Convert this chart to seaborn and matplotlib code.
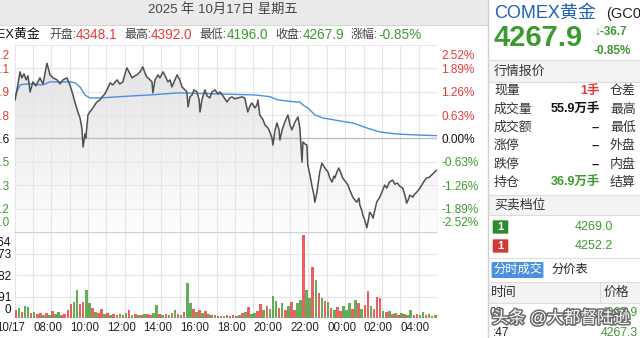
import numpy as np
import matplotlib
matplotlib.use("Agg")
import matplotlib.pyplot as plt
import seaborn as sns
from matplotlib import transforms
from matplotlib.patches import Rectangle, FancyBboxPatch
from matplotlib.colors import LinearSegmentedColormap
import matplotlib.patheffects as pe

sns.set_style("white")
plt.rcParams["font.family"] = ["Liberation Sans", "Noto Sans CJK SC", "DejaVu Sans"]

# ---------------- data ----------------
prev_close = 4304.6
open_p, high_p, low_p, close_p = 4348.1, 4392.0, 4196.0, 4267.9
change, change_pct = -36.7, -0.85
axis_top, axis_bottom = 4413.2, 4196.0

pct_labels = ["2.52%", "1.89%", "1.26%", "0.63%", "0.00%", "-0.63%", "-1.26%", "-1.89%", "-2.52%"]
price_levels = [4413.2, 4386.1, 4358.9, 4331.8, 4304.6, 4277.5, 4250.3, 4223.2, 4196.0]

vol_max = 4364
vol_levels = [4364, 3273, 2182, 1091, 0]

time_labels = ["10/17", "08:00", "10:00", "12:00", "14:00", "16:00", "18:00",
               "20:00", "22:00", "00:00", "02:00", "04:00"]
time_label_min = [0, 120, 240, 360, 480, 600, 720, 840, 960, 1080, 1200, 1320]
session_minutes = 1380  # 06:00 -> 05:00 next day

# (minutes since 06:00, price)
price_points = [
    (0, 4348.1), (2, 4349.4), (8, 4361.1), (18, 4382.0), (24, 4375.0), (31, 4379.7), (38, 4372.7),
    (44, 4377.4), (51, 4358.7), (60, 4370.4), (70, 4365.7), (83, 4375.0), (93, 4368.0), (106, 4392.0),
    (116, 4378.5), (126, 4375.0), (139, 4372.7), (149, 4368.0), (158, 4372.7), (171, 4375.0),
    (181, 4366.9), (191, 4355.2), (198, 4345.9), (207, 4335.4), (214, 4328.5), (220, 4316.8),
    (224, 4294.7), (230, 4309.8), (233, 4305.2), (240, 4332.0), (246, 4335.4), (256, 4340.1),
    (269, 4347.1), (279, 4349.4), (286, 4352.9), (295, 4356.4), (302, 4361.1), (312, 4369.2),
    (321, 4366.9), (335, 4372.7), (344, 4368.0), (354, 4370.4), (361, 4379.7), (367, 4386.7),
    (377, 4379.7), (384, 4375.0), (393, 4377.4), (400, 4378.5), (410, 4382.0), (419, 4387.8),
    (426, 4380.8), (432, 4376.2), (443, 4372.7), (449, 4370.4), (452, 4357.6), (459, 4372.7),
    (469, 4378.5), (475, 4375.0), (485, 4382.0), (492, 4377.4), (501, 4370.4), (508, 4372.7),
    (514, 4364.5), (524, 4372.7), (531, 4378.5), (540, 4372.7), (547, 4364.5), (557, 4361.1),
    (563, 4358.7), (567, 4341.3), (573, 4352.9), (580, 4355.2), (586, 4361.1), (596, 4358.7),
    (603, 4349.4), (606, 4335.4), (612, 4349.4), (622, 4361.1), (629, 4354.1), (638, 4351.7),
    (645, 4358.7), (655, 4361.1), (664, 4356.4), (671, 4358.7), (681, 4354.1), (694, 4347.1),
    (703, 4351.7), (710, 4352.9), (720, 4350.6), (729, 4351.7), (743, 4352.9), (752, 4351.7),
    (762, 4335.4), (769, 4342.4), (775, 4345.9), (785, 4340.1), (792, 4343.6), (795, 4349.4),
    (801, 4332.0), (812, 4326.1), (818, 4320.3), (828, 4316.8), (834, 4312.2), (841, 4305.2),
    (844, 4297.0), (851, 4314.5), (857, 4322.6), (864, 4314.5), (867, 4302.9), (874, 4314.5),
    (883, 4323.8), (893, 4332.0), (900, 4320.3), (906, 4314.5), (916, 4323.8), (926, 4329.6),
    (932, 4316.8), (939, 4277.2), (942, 4300.5), (949, 4298.2), (955, 4297.0), (958, 4273.8),
    (965, 4262.1), (971, 4250.5), (978, 4238.8), (981, 4230.7), (988, 4242.3), (991, 4250.5),
    (997, 4265.6), (1004, 4276.1), (1014, 4270.3), (1024, 4265.6), (1030, 4258.6), (1037, 4254.0),
    (1043, 4260.9), (1046, 4258.6), (1053, 4265.6), (1059, 4270.3), (1066, 4264.4), (1072, 4258.6),
    (1082, 4254.0), (1089, 4250.5), (1095, 4244.7), (1105, 4236.5), (1112, 4233.0), (1118, 4230.7),
    (1125, 4235.3), (1128, 4227.2), (1134, 4221.4), (1138, 4215.6), (1144, 4209.7), (1151, 4201.0),
    (1157, 4212.1), (1160, 4219.0), (1167, 4215.6), (1171, 4212.1), (1177, 4221.4), (1183, 4230.7),
    (1193, 4236.5), (1200, 4242.3), (1209, 4250.5), (1216, 4247.0), (1225, 4254.0), (1235, 4256.3),
    (1242, 4251.6), (1251, 4252.8), (1258, 4249.3), (1268, 4247.0), (1275, 4238.8), (1281, 4229.5),
    (1288, 4235.3), (1291, 4238.8), (1301, 4236.5), (1307, 4240.0), (1314, 4242.3), (1324, 4247.0),
    (1330, 4250.5), (1340, 4256.3), (1346, 4258.6), (1356, 4259.8), (1362, 4262.1), (1372, 4265.6),
    (1379, 4267.9),
]

# average price line (minutes, price)
avg_points = [
    (0, 4352.9), (18, 4366.9), (41, 4368.0), (93, 4366.9), (116, 4370.4), (181, 4370.4),
    (198, 4369.2), (214, 4364.5), (230, 4355.2), (246, 4351.7), (279, 4351.7), (387, 4354.1),
    (443, 4355.2), (534, 4357.6), (664, 4356.4), (785, 4355.2), (834, 4353.2), (860, 4349.4),
    (916, 4347.1), (932, 4347.1), (942, 4343.6), (958, 4340.1), (981, 4332.0), (1007, 4328.5),
    (1063, 4325.0), (1105, 4322.6), (1151, 4316.8), (1193, 4312.2), (1249, 4309.8), (1314, 4308.7),
    (1379, 4307.9),
]

# volume per 10-minute bin (lots), and up/down colour
volume = [
    406, 507, 304, 608, 558, 254, 304, 203, 254, 152, 254, 152, 355, 203, 304, 152, 203, 406, 710, 811,
    1420, 710, 811, 1420, 761, 507, 304, 254, 456, 203, 254, 152, 203, 152, 203, 152, 254, 406, 152, 203,
    152, 152, 203, 203, 152, 254, 659, 203, 152, 203, 152, 254, 406, 203, 152, 304, 1775, 761, 456, 304,
    406, 254, 355, 203, 152, 152, 101, 101, 101, 152, 101, 152, 101, 152, 254, 304, 558, 203, 254, 355,
    710, 406, 608, 456, 1115, 862, 507, 761, 406, 608, 811, 406, 761, 913, 4208, 1420, 1014, 2586, 1927, 1268,
    1014, 862, 811, 507, 406, 558, 355, 608, 406, 761, 456, 913, 761, 456, 659, 1369, 608, 456, 1065, 1014,
    355, 304, 355, 203, 254, 152, 254, 203, 152, 406, 152, 203, 152, 304, 152, 203, 101, 152,
]
vol_dir = ("rgrggrgrrgrgrggrrrrg" "grrggrgrrgrgrrgrgrgr"
           "grgrrggrgrgrgrgrggrg" "rgrgrgrrgrgrrgrgrggr"
           "rgrgggrgrgrrggrggrgr" "grgrgrrgggrgrgrrgrrr"
           "grgrgrgrggrrggrg" "rg")

# ---------------- figure ----------------
RED = "#e63a3a"
GREEN = "#3b9a2e"
W, H = 640, 338
fig = plt.figure(figsize=(6.4, 3.38), dpi=100)
fig.patch.set_facecolor("white")


def fx(x):
    return x / W


def fy(y):
    return 1 - y / H


def T(x, y, s, **kw):
    kw.setdefault("va", "center")
    return fig.text(fx(x), fy(y), s, **kw)


# header bar
fig.patches.append(Rectangle((0, fy(25)), fx(488), 25 / H, transform=fig.transFigure,
                             facecolor="#ebebeb", edgecolor="none", zorder=0))
fig.add_artist(plt.Line2D([0, fx(488)], [fy(25), fy(25)], color="#d6d6d6", lw=0.8))
T(223, 10, "2025 年 10月17日 星期五", ha="center", fontsize=9.5, color="#454545")

# info row
T(40, 35, "COMEX黄金", ha="right", fontsize=9.3, color="#111111")
info = [(49, 76, "开盘:", "4348.1", RED), (124, 151, "最高:", "4392.0", RED),
        (199, 227, "最低:", "4196.0", GREEN), (275, 303, "收盘:", "4267.9", GREEN),
        (351, 378, "涨幅:", "-0.85%", GREEN)]
for xl, xv, lab, val, c in info:
    T(xl, 35, lab, ha="left", fontsize=8.6, color="#444444")
    T(xv, 35, val, ha="left", fontsize=9.8, color=c)

# axes
L = 14.5
R = 437.0
ax = fig.add_axes([fx(L), fy(232), (R - L) / W, 187 / H])
axv = fig.add_axes([fx(L), fy(318), (R - L) / W, 86 / H])

price_min = [p[0] for p in price_points]
price_val = [p[1] for p in price_points]
avg_min = [p[0] for p in avg_points]
avg_val = [p[1] for p in avg_points]

for a in (ax, axv):
    a.set_facecolor("none")
    a.set_xlim(0, session_minutes)
    for s in a.spines.values():
        s.set_visible(False)
    a.set_xticks([])
    a.set_yticks([])

ax.set_ylim(axis_bottom, axis_top)

# gradient fill below the price line: stacked fills, darkest (top) first
cmap = LinearSegmentedColormap.from_list("g", ["#fdfdfd", "#e1e1e1"])
pv = np.array(price_val)
nb = 48
edges = np.linspace(axis_bottom, axis_top, nb + 1)
for k in range(nb, 0, -1):
    hi = edges[k]
    ax.fill_between(price_min, axis_bottom, np.minimum(pv, hi),
                    color=cmap((k - 0.5) / nb), lw=0, zorder=0.2)

for a in (ax, axv):
    for m in range(0, session_minutes + 1, 60):
        a.axvline(m, color="#e4e4ea", lw=0.8, zorder=0.5)
for lv in price_levels:
    if abs(lv - prev_close) < 0.05:
        ax.axhline(lv, color="#bdbdbd", lw=1.0, zorder=0.6)
    else:
        ax.axhline(lv, color="#e4e4ea", lw=0.8, zorder=0.5)

sns.lineplot(x=price_min, y=price_val, ax=ax, color="#505050", lw=1.1, zorder=3)
sns.lineplot(x=avg_min, y=avg_val, ax=ax, color="#4a8fdb", lw=1.0, zorder=2)
ax.set_xlim(0, session_minutes)
ax.set_ylim(axis_bottom, axis_top)

# volume
assert len(volume) == len(vol_dir), (len(volume), len(vol_dir))
vol_x = [10 * i for i in range(len(volume))]
vcol = [RED if d == "r" else GREEN for d in vol_dir]
axv.bar(vol_x, volume, width=8.5, align="edge", color=vcol, alpha=0.8, lw=0, zorder=2)
axv.set_ylim(0, vol_max)
for lv in vol_levels[1:-1]:
    axv.axhline(lv, color="#e4e4ea", lw=0.8, zorder=0.5)
axv.axhline(vol_max, color="#cfd0dc", lw=1.0, zorder=1)
axv.axhline(0, color="#d6d6d6", lw=1.0, zorder=1)


def off_text(a, xa, yd, s, dx, dy, blend="x_axes", **kw):
    if blend == "x_axes":
        base = transforms.blended_transform_factory(a.transAxes, a.transData)
    else:
        base = transforms.blended_transform_factory(a.transData, a.transAxes)
    tr = base + transforms.ScaledTranslation(dx / 100, -dy / 100, fig.dpi_scale_trans)
    a.text(xa, yd, s, transform=tr, clip_on=False, **kw)


n = len(price_levels)
for i, (lv, pl) in enumerate(zip(price_levels, pct_labels)):
    if i < 4:
        c = RED
    elif i == 4:
        c = "#111111"
    else:
        c = GREEN
    dy = 11 if i == 0 else (-9 if i == n - 1 else 1.5)
    off_text(ax, 1.0, lv, pl, 4, dy, ha="left", va="center", fontsize=8.5, color=c)
    off_text(ax, 0.0, lv, f"{lv:.1f}", -5, dy, ha="right", va="center", fontsize=8.5, color=c)

for i, lv in enumerate(vol_levels):
    dy = 10.5 if i == 0 else (-8 if i == len(vol_levels) - 1 else 1.5)
    off_text(axv, 0.0, lv, f"{lv}", -3, dy, ha="right", va="center", fontsize=8.5, color="#111111")

for m, lab in zip(time_label_min, time_labels):
    off_text(axv, m, 0, lab, -3.5, 10, blend="x_data", ha="center", va="center",
             fontsize=8.3, color="#222222")

# separator
fig.add_artist(plt.Line2D([fx(488), fx(488)], [fy(0), fy(338)], color="#cfcfcf", lw=1.0))

# ---------------- right panel ----------------
T(494, 13, "COMEX黄金", ha="left", fontsize=13, color="#1f62b3")
T(606, 14, "(GC0", ha="left", fontsize=10.5, color="#222222")
T(493, 38, "4267.9", ha="left", fontsize=21, fontweight="bold", color=GREEN)
T(594, 32, "↓-36.7", ha="left", fontsize=8.5, fontweight="bold", color=GREEN)
T(594, 51, "-0.85%", ha="left", fontsize=8.5, fontweight="bold", color=GREEN)


def hline(y, x0=488, x1=640, c="#dcdcdc"):
    fig.add_artist(plt.Line2D([fx(x0), fx(x1)], [fy(y), fy(y)], color=c, lw=0.8))


def band(y0, y1):
    fig.patches.append(Rectangle((fx(488), fy(y1)), fx(152), (y1 - y0) / H,
                                 transform=fig.transFigure, facecolor="#f3f3f3",
                                 edgecolor="none", zorder=0))


band(60, 82)
band(195, 215)
band(282, 303)
for y in (60, 82, 195, 215, 258, 282, 303):
    hline(y)
fig.add_artist(plt.Line2D([fx(600), fx(600)], [fy(282), fy(303)], color="#dcdcdc", lw=0.8))

T(494, 71.5, "行情报价", ha="left", fontsize=9.3, color="#333333")
rows = [(91, "现量", "1手", RED, "仓差"), (110, "成交量", "55.9万手", "#111111", "最高"),
        (128, "成交额", "--", "#111111", "最低"), (146, "涨停", "--", "#111111", "外盘"),
        (165, "跌停", "--", "#111111", "内盘"), (183, "持仓", "36.9万手", GREEN, "结算")]
for y, lab, val, c, lab2 in rows:
    T(494, y, lab, ha="left", fontsize=9.3, color="#333333")
    T(600, y, val, ha="right", fontsize=9, fontweight="bold", color=c)
    T(610, y, lab2, ha="left", fontsize=9.3, color="#333333")

T(494, 205, "买卖档位", ha="left", fontsize=9.3, color="#333333")
for y, sq, val in ((227, "#2f8a2a", "4269.0"), (246, "#d23a36", "4252.2")):
    fig.patches.append(FancyBboxPatch((fx(494), fy(y + 6)), fx(13), 12 / H,
                                      boxstyle="round,pad=0.002", transform=fig.transFigure,
                                      facecolor=sq, edgecolor="none"))
    T(500.5, y, "1", ha="center", fontsize=8, fontweight="bold", color="white")
    T(613, y, val, ha="right", fontsize=9, color=GREEN)

fig.patches.append(FancyBboxPatch((fx(493.5), fy(277)), fx(48), 14 / H,
                                  boxstyle="round,pad=0.003", transform=fig.transFigure,
                                  facecolor="#4d91dc", edgecolor="none"))
T(517.5, 270, "分时成交", ha="center", fontsize=8.8, color="white")
T(551, 270, "分价表", ha="left", fontsize=8.8, color="#222222")
T(491, 293, "时间", ha="left", fontsize=9.3, color="#333333")
T(603, 293, "价格", ha="left", fontsize=9.3, color="#333333")
T(489, 313, "09", ha="left", fontsize=8.5, color="#222222")
T(601, 313, "4267.9", ha="left", fontsize=8.8, color=GREEN)
T(493, 333, ":47", ha="left", fontsize=8.5, color="#222222")
T(601, 333, "4267.3", ha="left", fontsize=8.8, color=GREEN)

T(492, 318, "头条 @大都督陆逊", ha="left", fontsize=12, color="white",
  path_effects=[pe.withStroke(linewidth=2.2, foreground="#6a6a6a")])

fig.savefig("out.png", dpi=100, facecolor="white")
